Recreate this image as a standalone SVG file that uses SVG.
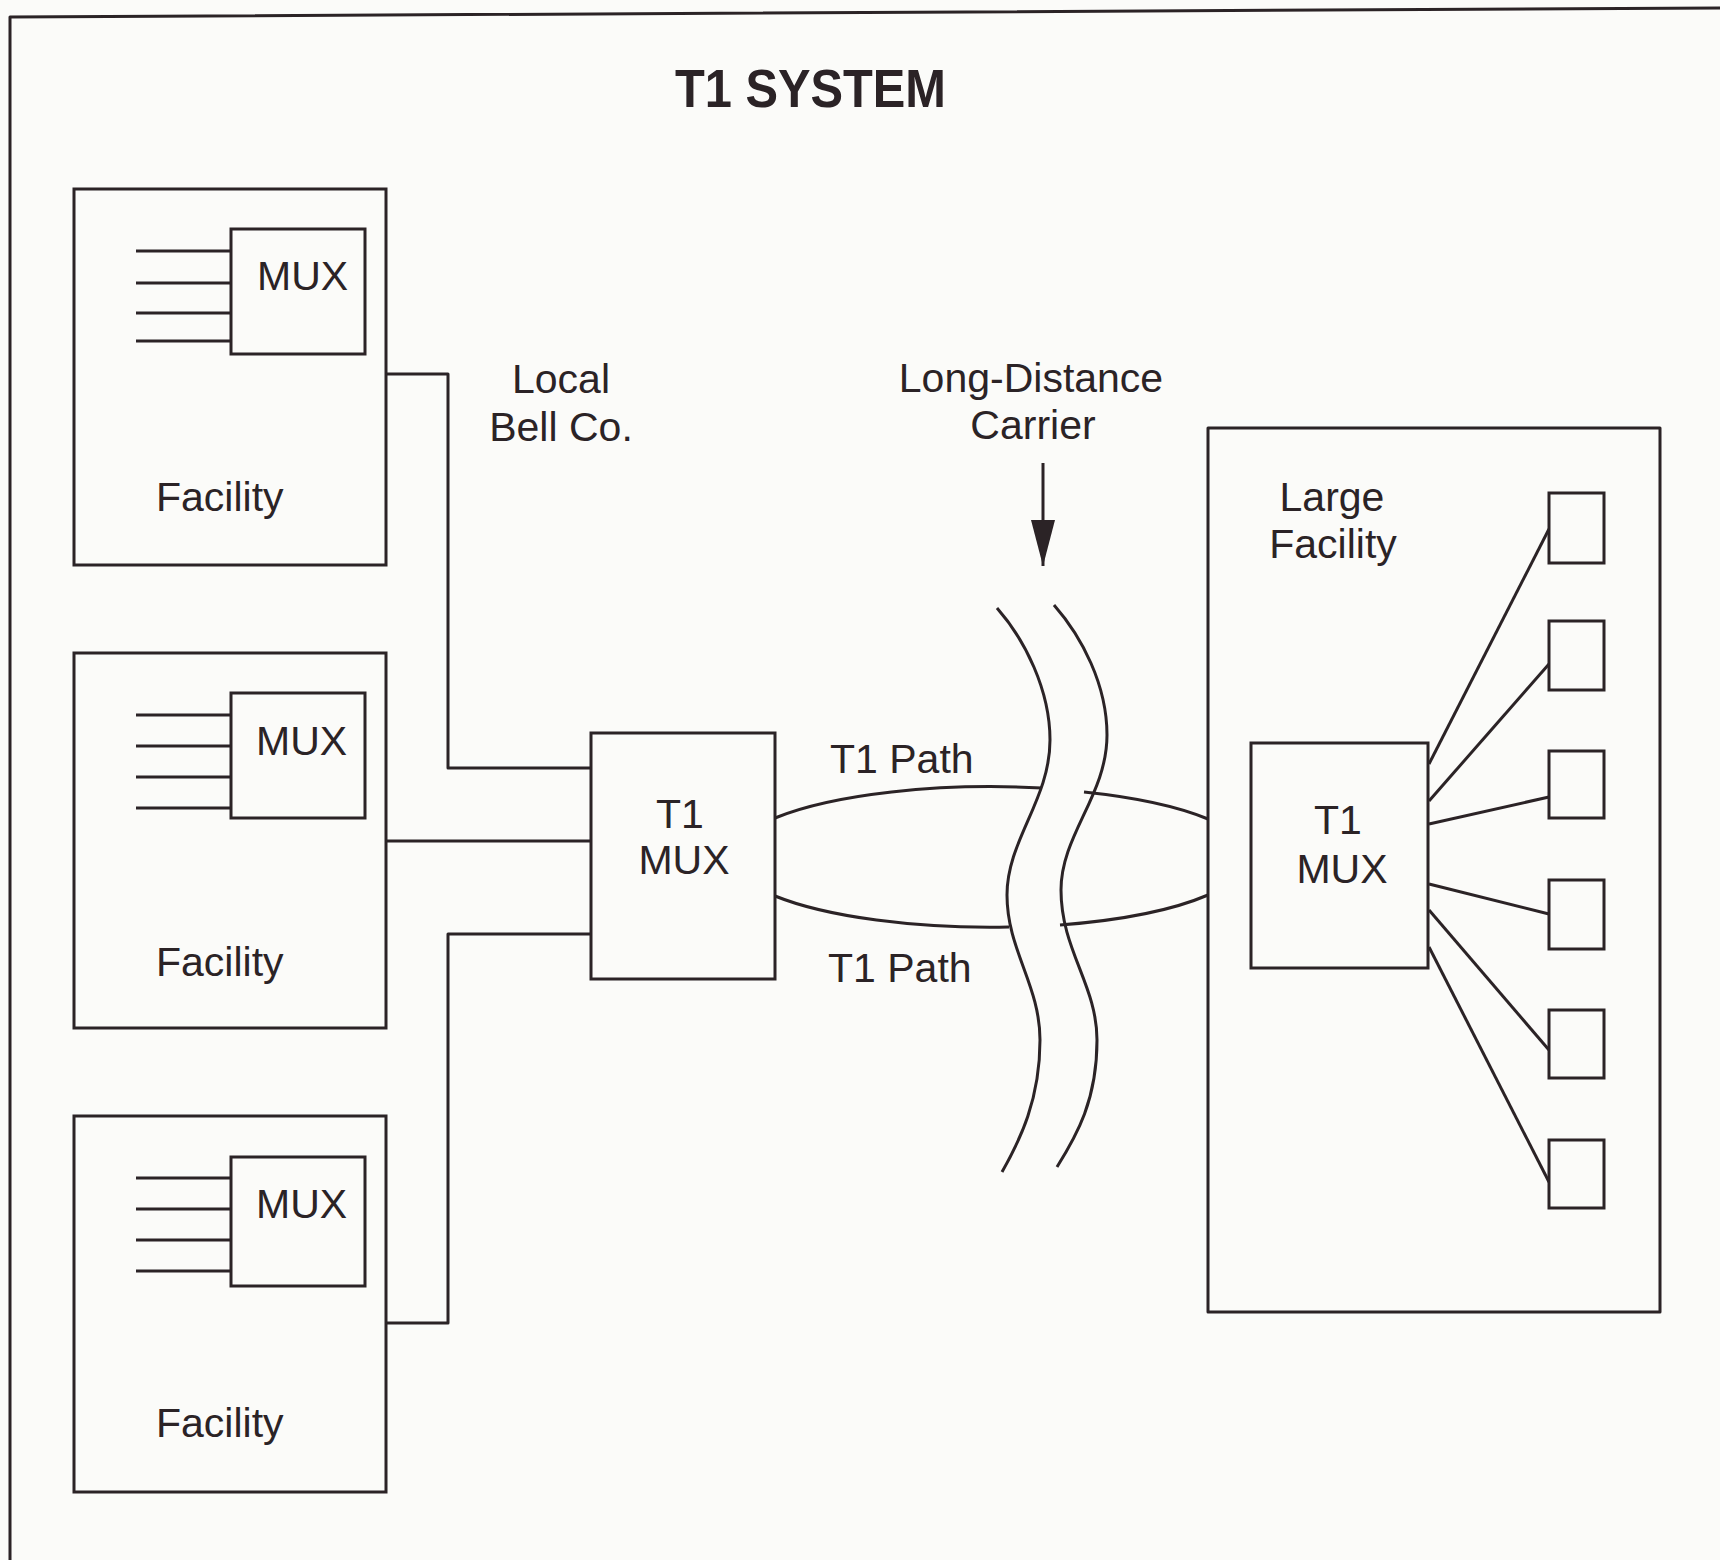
<svg xmlns="http://www.w3.org/2000/svg" width="1720" height="1560" viewBox="0 0 1720 1560">
<defs>
<style>
.s{fill:none;stroke:#2b2326;stroke-width:3;stroke-linejoin:round;stroke-linecap:butt}
.b{fill:#fbfbf9;stroke:#2b2326;stroke-width:3}
.t{font-family:"Liberation Sans",Arial,sans-serif;font-size:41px;fill:#2b2326}
.m{text-anchor:middle}
.title{font-family:"Liberation Sans",Arial,sans-serif;font-size:54px;font-weight:bold;fill:#2b2326}
</style>
<marker id="ah" markerWidth="46" markerHeight="24" refX="46" refY="12" orient="auto" markerUnits="userSpaceOnUse" viewBox="0 0 46 24">
<path d="M0,0 L46,12 L0,24 Z" fill="#2b2326"/>
</marker>
</defs>
<rect width="1720" height="1560" fill="#fbfbf9"/>
<g id="frame">
<path class="s" d="M10,1560 V17 L1720,8"/>
</g>
<text class="title" x="675" y="107" textLength="271" lengthAdjust="spacingAndGlyphs">T1 SYSTEM</text>

<g id="connectors">
<path class="s" d="M386,374 H448 V768 H591"/>
<path class="s" d="M386,841 H591"/>
<path class="s" d="M386,1323 H448 V934 H591"/>
<path class="s" d="M775,818 A259,70 0 0 1 1042,788"/>
<path class="s" d="M1084,792 A259,70 0 0 1 1208,819"/>
<path class="s" d="M1208,895 A259,70 0 0 1 1060,925"/>
<path class="s" d="M1009,927 A259,70 0 0 1 775,896"/>
<path class="s" d="M1043,463 V566" marker-end="url(#ah)"/>
<path class="s" d="M1429,764 L1549,529"/>
<path class="s" d="M1429,801 L1549,664"/>
<path class="s" d="M1429,824 L1549,797"/>
<path class="s" d="M1429,884 L1549,914"/>
<path class="s" d="M1429,910 L1549,1050"/>
<path class="s" d="M1429,947 L1549,1182"/>
</g>

<g id="wave-left">
<path class="s" d="M997,608 C1025,640 1050,690 1050,740 C1050,800 1007,840 1007,895 C1007,950 1040,985 1040,1040 C1040,1100 1020,1140 1002,1172"/>
</g>
<g id="wave-right">
<path class="s" d="M1054,605 C1082,637 1107,685 1107,735 C1107,795 1061,835 1061,890 C1061,950 1097,985 1097,1040 C1097,1100 1077,1135 1057,1167"/>
</g>

<g id="facility1">
<rect class="b" x="74" y="189" width="312" height="376"/>
<rect class="b" x="231" y="229" width="134" height="125"/>
<path class="s" d="M136,251 H231 M136,283 H231 M136,313 H231 M136,341 H231"/>
<text class="t" x="257" y="290">MUX</text>
<text class="t" x="156" y="511">Facility</text>
</g>
<g id="facility2">
<rect class="b" x="74" y="653" width="312" height="375"/>
<rect class="b" x="231" y="693" width="134" height="125"/>
<path class="s" d="M136,715 H231 M136,746 H231 M136,777 H231 M136,808 H231"/>
<text class="t" x="256" y="755">MUX</text>
<text class="t" x="156" y="976">Facility</text>
</g>
<g id="facility3">
<rect class="b" x="74" y="1116" width="312" height="376"/>
<rect class="b" x="231" y="1157" width="134" height="129"/>
<path class="s" d="M136,1178 H231 M136,1209 H231 M136,1240 H231 M136,1271 H231"/>
<text class="t" x="256" y="1218">MUX</text>
<text class="t" x="156" y="1437">Facility</text>
</g>

<g id="t1mux-local">
<rect class="b" x="591" y="733" width="184" height="246"/>
<text class="t m" x="680" y="828">T1</text>
<text class="t m" x="684" y="874">MUX</text>
</g>

<g id="large-facility">
<rect class="s" x="1208" y="428" width="452" height="884"/>
<text class="t m" x="1332" y="511">Large</text>
<text class="t m" x="1333" y="558">Facility</text>
</g>
<g id="t1mux-large">
<rect class="b" x="1251" y="743" width="177" height="225"/>
<text class="t m" x="1338" y="834">T1</text>
<text class="t m" x="1342" y="883">MUX</text>
</g>
<g id="terminal1"><rect class="b" x="1549" y="493" width="55" height="70"/></g>
<g id="terminal2"><rect class="b" x="1549" y="621" width="55" height="69"/></g>
<g id="terminal3"><rect class="b" x="1549" y="751" width="55" height="67"/></g>
<g id="terminal4"><rect class="b" x="1549" y="880" width="55" height="69"/></g>
<g id="terminal5"><rect class="b" x="1549" y="1010" width="55" height="68"/></g>
<g id="terminal6"><rect class="b" x="1549" y="1140" width="55" height="68"/></g>

<g id="labels">
<text class="t m" x="561" y="393">Local</text>
<text class="t m" x="561" y="441">Bell Co.</text>
<text class="t m" x="1031" y="392">Long-Distance</text>
<text class="t m" x="1033" y="439">Carrier</text>
<text class="t" x="830" y="773">T1 Path</text>
<text class="t" x="828" y="982">T1 Path</text>
</g>
</svg>
